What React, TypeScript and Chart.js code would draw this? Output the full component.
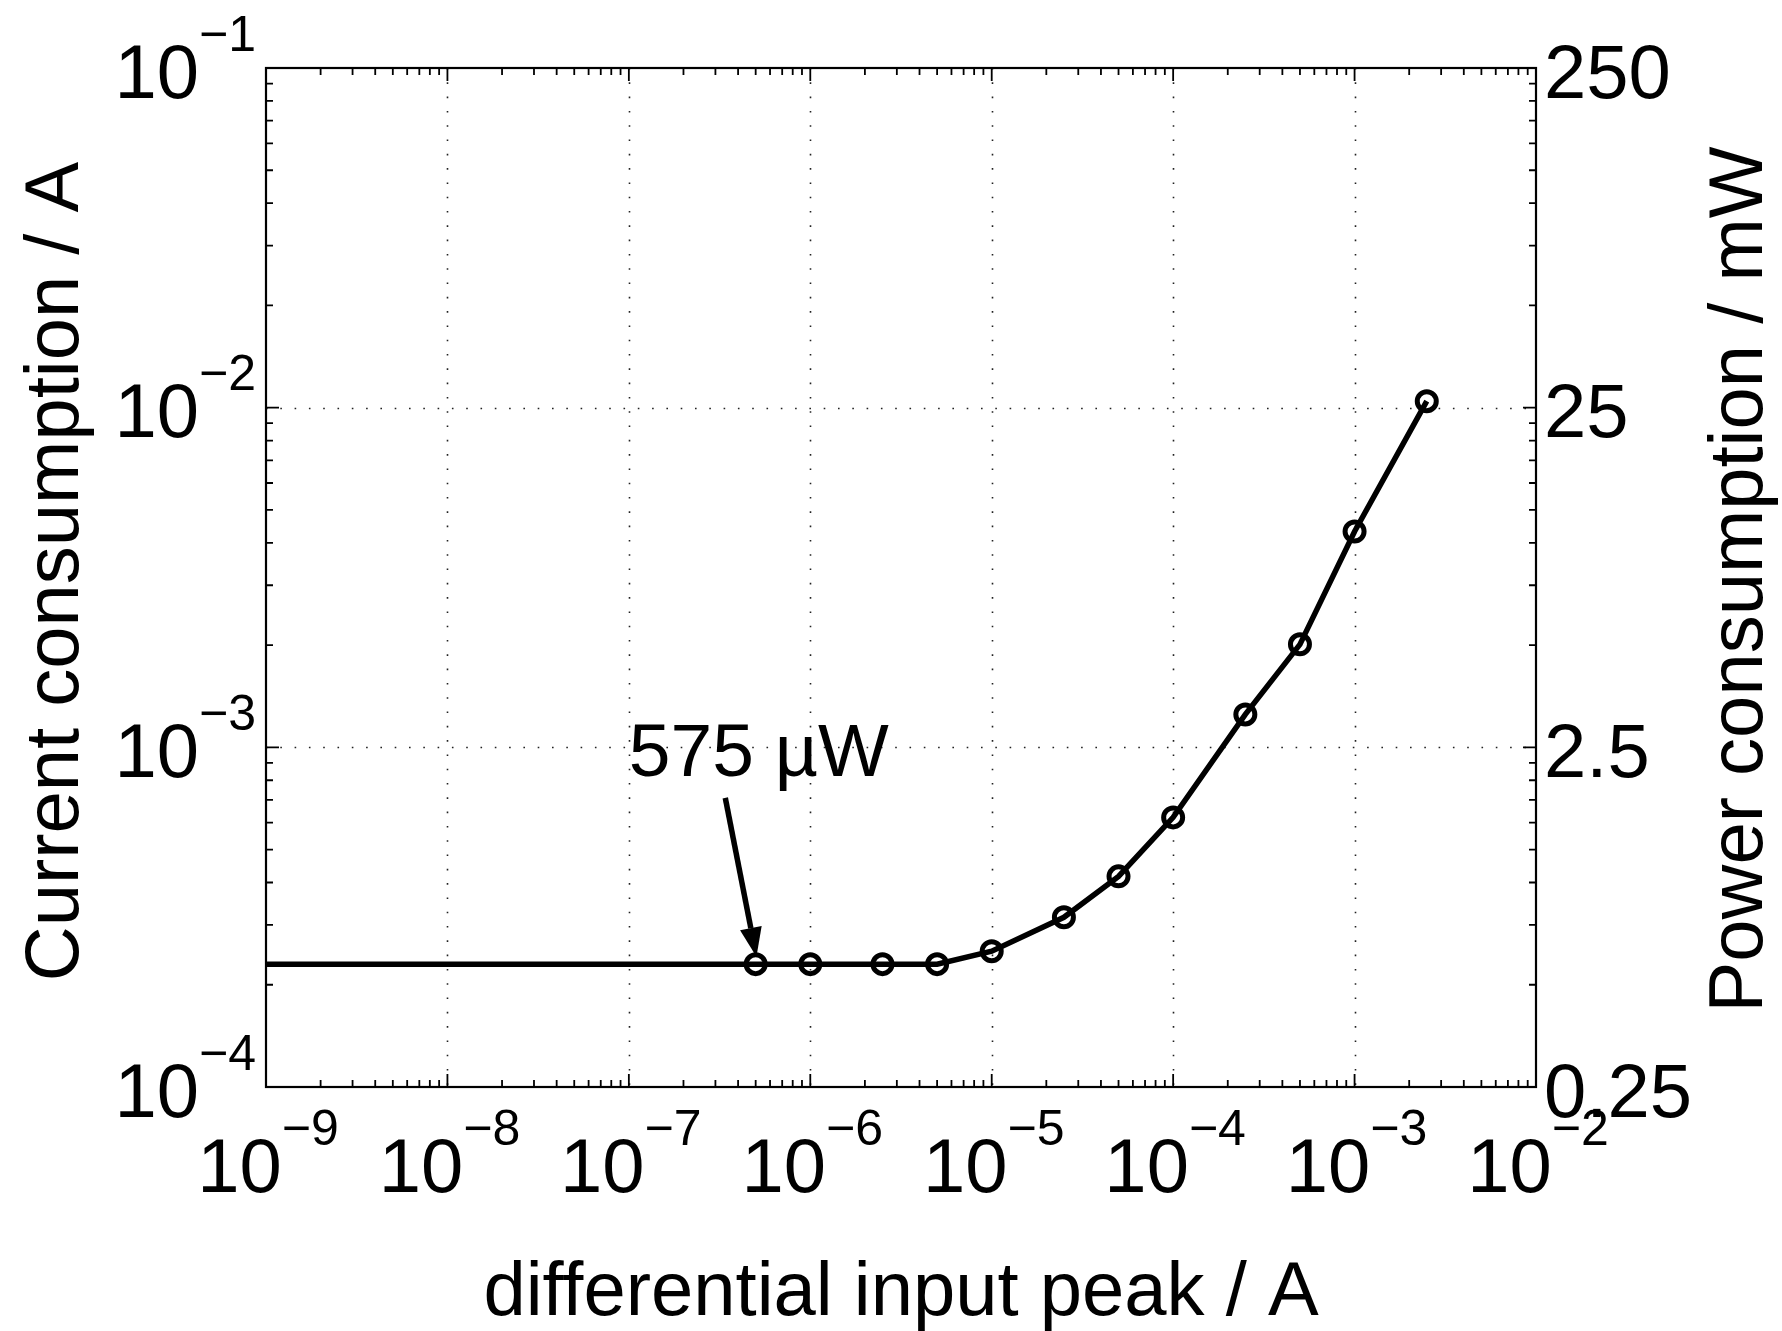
import React, { useEffect, useRef } from 'react';
import { Chart, registerables } from 'chart.js';

Chart.register(...registerables);

// ---- data ----
const inputPeak = [1e-9, 5e-7, 1e-6, 2.5e-6, 5e-6, 1e-5, 2.5e-5, 5e-5, 1e-4, 2.5e-4, 5e-4, 1e-3, 2.5e-3];
const currentConsumption = [2.3e-4, 2.3e-4, 2.3e-4, 2.3e-4, 2.3e-4, 2.51e-4, 3.16e-4, 4.17e-4, 6.22e-4, 1.25e-3, 2.01e-3, 4.32e-3, 1.045e-2];
const markerShown = [false, true, true, true, true, true, true, true, true, true, true, true, true];

const xTickExponents = [-9, -8, -7, -6, -5, -4, -3, -2];
const yTickExponents = [-4, -3, -2, -1];
const powerTickLabels = ['0.25', '2.5', '25', '250'];

const xTitle = 'differential input peak / A';
const yTitle = 'Current consumption / A';
const y2Title = 'Power consumption / mW';

const annotationText = '575 \u00B5W';
const annotationAt = [5.2e-7, 8.25e-4];
const arrowFrom = [3.4e-7, 7.1e-4];
const arrowTo = [5.05e-7, 2.42e-4];

const FONT = '"Liberation Sans", Arial, Helvetica, sans-serif';

function drawPow(ctx: CanvasRenderingContext2D, exp: number, x: number, baseline: number, align: 'right' | 'center') {
  const base = '10';
  const sup = '\u2212' + Math.abs(exp);
  ctx.font = `76px ${FONT}`;
  const wb = ctx.measureText(base).width;
  ctx.font = `50px ${FONT}`;
  const ws = ctx.measureText(sup).width;
  const total = wb + ws;
  const start = align === 'right' ? x - total : x - total / 2;
  ctx.textAlign = 'left';
  ctx.textBaseline = 'alphabetic';
  ctx.font = `76px ${FONT}`;
  ctx.fillText(base, start, baseline);
  ctx.font = `50px ${FONT}`;
  ctx.fillText(sup, start + wb, baseline - 47);
}

const matlabAxes = {
  id: 'matlabAxes',
  beforeDatasetsDraw(chart: any) {
    const { ctx, chartArea: a, scales } = chart;
    const xs = scales.x;
    const ys = scales.y;
    ctx.save();
    ctx.strokeStyle = '#222';
    ctx.lineWidth = 1.6;
    ctx.setLineDash([1.6, 12.7]);
    xTickExponents.slice(1, -1).forEach((e) => {
      const px = Math.round(xs.getPixelForValue(Math.pow(10, e))) + 0.5;
      ctx.beginPath();
      ctx.moveTo(px, a.top);
      ctx.lineTo(px, a.bottom);
      ctx.stroke();
    });
    yTickExponents.slice(1, -1).forEach((e) => {
      const py = Math.round(ys.getPixelForValue(Math.pow(10, e))) + 0.5;
      ctx.beginPath();
      ctx.moveTo(a.left, py);
      ctx.lineTo(a.right, py);
      ctx.stroke();
    });
    ctx.restore();
  },
  afterDraw(chart: any) {
    const { ctx, chartArea: a, scales } = chart;
    const xs = scales.x;
    const ys = scales.y;
    ctx.save();
    ctx.setLineDash([]);
    ctx.strokeStyle = '#000';
    ctx.fillStyle = '#000';

    // ticks (inward, all four sides)
    ctx.lineWidth = 1.8;
    const MAJ = 13;
    const MIN = 7;
    const xTick = (v: number, len: number) => {
      const px = xs.getPixelForValue(v);
      ctx.beginPath();
      ctx.moveTo(px, a.bottom);
      ctx.lineTo(px, a.bottom - len);
      ctx.moveTo(px, a.top);
      ctx.lineTo(px, a.top + len);
      ctx.stroke();
    };
    const yTick = (v: number, len: number) => {
      const py = ys.getPixelForValue(v);
      ctx.beginPath();
      ctx.moveTo(a.left, py);
      ctx.lineTo(a.left + len, py);
      ctx.moveTo(a.right, py);
      ctx.lineTo(a.right - len, py);
      ctx.stroke();
    };
    xTickExponents.forEach((e, i) => {
      xTick(Math.pow(10, e), MAJ);
      if (i < xTickExponents.length - 1) {
        for (let m = 2; m <= 9; m++) xTick(m * Math.pow(10, e), MIN);
      }
    });
    yTickExponents.forEach((e, i) => {
      yTick(Math.pow(10, e), MAJ);
      if (i < yTickExponents.length - 1) {
        for (let m = 2; m <= 9; m++) yTick(m * Math.pow(10, e), MIN);
      }
    });

    // box
    ctx.lineWidth = 2.2;
    ctx.strokeRect(a.left, a.top, a.right - a.left, a.bottom - a.top);

    // tick labels
    yTickExponents.forEach((e) => {
      const py = ys.getPixelForValue(Math.pow(10, e));
      drawPow(ctx, e, a.left - 10, py + 29.5, 'right');
    });
    xTickExponents.forEach((e) => {
      const px = xs.getPixelForValue(Math.pow(10, e));
      drawPow(ctx, e, px + 2, a.bottom + 105, 'center');
    });
    ctx.font = `76px ${FONT}`;
    ctx.textAlign = 'left';
    ctx.textBaseline = 'alphabetic';
    powerTickLabels.forEach((lab, i) => {
      const py = ys.getPixelForValue(Math.pow(10, yTickExponents[i]));
      ctx.fillText(lab, a.right + 8, py + 29.5);
    });

    // axis titles
    ctx.font = `76px ${FONT}`;
    ctx.textAlign = 'center';
    ctx.fillText(xTitle, (a.left + a.right) / 2, a.bottom + 228);

    ctx.save();
    ctx.translate(78, (a.top + a.bottom) / 2 - 6);
    ctx.rotate(-Math.PI / 2);
    ctx.fillText(yTitle, 0, 0);
    ctx.restore();

    ctx.save();
    ctx.translate(1762, (a.top + a.bottom) / 2 + 2);
    ctx.rotate(-Math.PI / 2);
    ctx.fillText(y2Title, 0, 0);
    ctx.restore();

    // annotation
    ctx.font = `75px ${FONT}`;
    ctx.textAlign = 'center';
    ctx.fillText(annotationText, xs.getPixelForValue(annotationAt[0]), ys.getPixelForValue(annotationAt[1]));

    const x0 = xs.getPixelForValue(arrowFrom[0]);
    const y0 = ys.getPixelForValue(arrowFrom[1]);
    const x1 = xs.getPixelForValue(arrowTo[0]);
    const y1 = ys.getPixelForValue(arrowTo[1]);
    const ang = Math.atan2(y1 - y0, x1 - x0);
    const headLen = 29;
    const headHalf = 11;
    const bx = x1 - headLen * Math.cos(ang);
    const by = y1 - headLen * Math.sin(ang);
    ctx.lineWidth = 5.5;
    ctx.beginPath();
    ctx.moveTo(x0, y0);
    ctx.lineTo(bx, by);
    ctx.stroke();
    ctx.beginPath();
    ctx.moveTo(x1, y1);
    ctx.lineTo(bx + headHalf * Math.sin(ang), by - headHalf * Math.cos(ang));
    ctx.lineTo(bx - headHalf * Math.sin(ang), by + headHalf * Math.cos(ang));
    ctx.closePath();
    ctx.fill();

    ctx.restore();
  },
};

export default function App() {
  const ref = useRef<HTMLCanvasElement | null>(null);
  useEffect(() => {
    if (!ref.current) return;
    const chart = new Chart(ref.current, {
      type: 'line',
      data: {
        datasets: [
          {
            data: inputPeak.map((x, i) => ({ x, y: currentConsumption[i] })),
            borderColor: '#000',
            borderWidth: 5.5,
            pointRadius: markerShown.map((m) => (m ? 9.5 : 0)),
            pointHoverRadius: markerShown.map((m) => (m ? 9.5 : 0)),
            pointBorderWidth: 5,
            pointBorderColor: '#000',
            pointBackgroundColor: 'rgba(0,0,0,0)',
            pointStyle: 'circle',
            tension: 0,
            fill: false,
          },
        ],
      },
      options: {
        responsive: false,
        animation: false,
        devicePixelRatio: 1,
        layout: { padding: { left: 266, right: 246, top: 68, bottom: 244 } },
        plugins: { legend: { display: false }, tooltip: { enabled: false } },
        events: [],
        scales: {
          x: { type: 'logarithmic', min: 1e-9, max: 1e-2, display: false },
          y: { type: 'logarithmic', min: 1e-4, max: 1e-1, display: false },
        },
      },
      plugins: [matlabAxes],
    } as any);
    return () => chart.destroy();
  }, []);
  return (
    <div style={{ position: 'absolute', left: 0, top: 0, width: 1782, height: 1331, background: '#fff' }}>
      <canvas ref={ref} width={1782} height={1331} style={{ display: 'block', width: 1782, height: 1331 }} />
    </div>
  );
}
